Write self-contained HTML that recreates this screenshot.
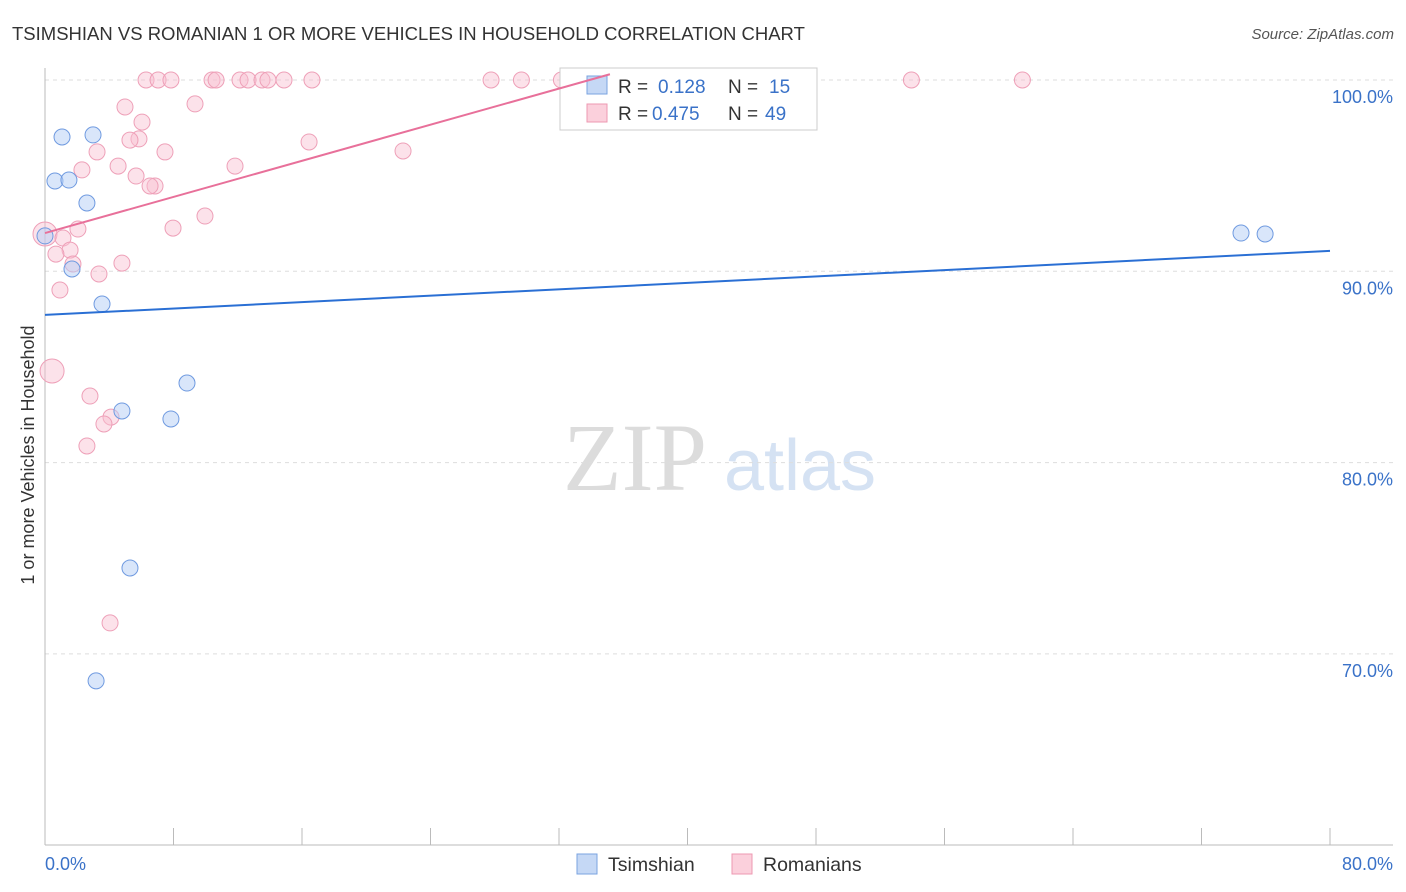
<!DOCTYPE html>
<html><head><meta charset="utf-8"><style>
body{margin:0;background:#fff;font-family:"Liberation Sans",sans-serif;}
#wrap{position:relative;width:1406px;height:892px;overflow:hidden;}
</style></head><body>
<div id="wrap">
<svg id="svg" width="1406" height="892" xmlns="http://www.w3.org/2000/svg">
<text x="12" y="40" font-size="18.5" fill="#333">TSIMSHIAN VS ROMANIAN 1 OR MORE VEHICLES IN HOUSEHOLD CORRELATION CHART</text>
<text x="1394" y="39" font-size="15" fill="#555" font-style="italic" text-anchor="end">Source: ZipAtlas.com</text>
<text x="34" y="455" font-size="18" fill="#333" text-anchor="middle" transform="rotate(-90 34 455)">1 or more Vehicles in Household</text>
<g><text x="635" y="490" font-size="96" fill="#dcdcdc" font-family="Liberation Serif,serif" text-anchor="middle">ZIP</text><text x="800" y="490" font-size="72" fill="#d5e2f3" text-anchor="middle">atlas</text></g>
<g id="grid"></g><g id="axes"></g><g id="pts"></g>
<g>
<rect x="560" y="68" width="257" height="62" fill="#fff" stroke="#ccc"/>
<rect x="587" y="76" width="20" height="18" fill="#c5d8f5" stroke="#7aa3e0"/>
<text x="618" y="93" font-size="19" fill="#333">R = </text><text x="658" y="93" font-size="19" fill="#3a72c8">0.128</text>
<text x="728" y="93" font-size="19" fill="#333">N = </text><text x="769" y="93" font-size="19" fill="#3a72c8">15</text>
<rect x="587" y="104" width="20" height="18" fill="#fbd0dc" stroke="#ee98b2"/>
<text x="618" y="120" font-size="19" fill="#333">R = </text><text x="652" y="120" font-size="19" fill="#3a72c8">0.475</text>
<text x="728" y="120" font-size="19" fill="#333">N = </text><text x="765" y="120" font-size="19" fill="#3a72c8">49</text>
</g>
<g id="lines"></g>
<g>
<rect x="577" y="854" width="20" height="20" fill="#c5d8f5" stroke="#7aa3e0"/>
<text x="608" y="871" font-size="19.5" fill="#333">Tsimshian</text>
<rect x="732" y="854" width="20" height="20" fill="#fbd0dc" stroke="#ee98b2"/>
<text x="763" y="871" font-size="19.5" fill="#333">Romanians</text>
</g>
</svg></div>
<script>
const blueX=[0,1.06,0.62,1.49,2.99,2.61,1.68,3.55,8.84,4.79,7.84,5.29,3.18,74.46,75.96];
const blueY=[91.85,97.02,94.72,94.77,97.13,93.57,90.12,88.29,84.16,82.70,82.28,74.49,68.59,92.0,91.95];
const pinkX=[6.29,7.04,7.84,10.40,10.65,12.14,12.64,13.51,13.88,14.88,16.62,27.77,29.66,32.15,53.94,60.85,4.98,9.34,6.04,5.85,5.29,16.44,3.24,7.47,22.29,4.55,11.83,2.30,5.67,6.85,6.54,9.96,7.97,2.05,0,1.12,1.56,0.68,1.74,4.79,3.36,0.93,0.44,2.80,4.11,3.67,2.61,4.05];
const pinkY=[100,100,100,100,100,100,100,100,100,100,100,100,100,100,100,100,98.59,98.75,97.80,96.92,96.86,96.76,96.24,96.24,96.29,95.50,95.50,95.30,94.98,94.46,94.46,92.89,92.26,92.21,91.95,91.74,91.11,90.90,90.38,90.43,89.86,89.02,84.79,83.48,82.38,82.02,80.87,71.62];
const blueTrend=[87.72,91.07];
const pinkTrend=[92.0,0.236];
const yTicks=[100,90,80,70];
const yLabels=["100.0%","90.0%","80.0%","70.0%"];
const NS="http://www.w3.org/2000/svg";
const sx=v=>45+v/80*1285, sy=v=>80+(100-v)*19.13;
function mk(p,t,a){const e=document.createElementNS(NS,t);for(const k in a)e.setAttribute(k,a[k]);document.getElementById(p).appendChild(e);return e;}
yTicks.forEach((t,i)=>{
 const l=mk('grid','line',{x1:45,x2:1393,y1:sy(t),y2:sy(t),stroke:'#ddd','stroke-dasharray':'4 4'});
 
 
 const tx=mk('grid','text',{x:1393,y:sy(t)+23,'font-size':18,fill:'#3a72c8','text-anchor':'end'});
 tx.textContent=yLabels[i];
 
 
});
mk('axes','line',{x1:45,x2:45,y1:68,y2:845,stroke:'#bbb'});
mk('axes','line',{x1:45,x2:1393,y1:845,y2:845,stroke:'#bbb'});
for(let i=0;i<=10;i++){mk('axes','line',{x1:sx(i*8),x2:sx(i*8),y1:828,y2:845,stroke:'#bbb'});}
let a=mk('axes','text',{x:45,y:870,'font-size':18,fill:'#3a72c8'});a.textContent='0.0%';

a=mk('axes','text',{x:1393,y:870,'font-size':18,fill:'#3a72c8','text-anchor':'end'});a.textContent='80.0%';

pinkX.forEach((x,i)=>{const big=(i==34||i==42);const c=mk('pts','circle',{cx:sx(x),cy:sy(pinkY[i]),r:big?12:8,fill:'rgba(248,190,208,0.45)',stroke:'#eea0b8','stroke-width':1});
 
 });
blueX.forEach((x,i)=>{const c=mk('pts','circle',{cx:sx(x),cy:sy(blueY[i]),r:8,fill:'rgba(180,205,245,0.5)',stroke:'#6f9ae0','stroke-width':1});
 
 });
let bl=mk('lines','line',{x1:sx(0),y1:sy(blueTrend[0]),x2:sx(80),y2:sy(blueTrend[1]),stroke:'#2a6fd4','stroke-width':2});

const xe=(100.3-pinkTrend[0])/pinkTrend[1];
let pl=mk('lines','line',{x1:sx(0),y1:sy(pinkTrend[0]),x2:sx(xe),y2:sy(100.3),stroke:'#e8709a','stroke-width':2});

</script>
</body></html>
